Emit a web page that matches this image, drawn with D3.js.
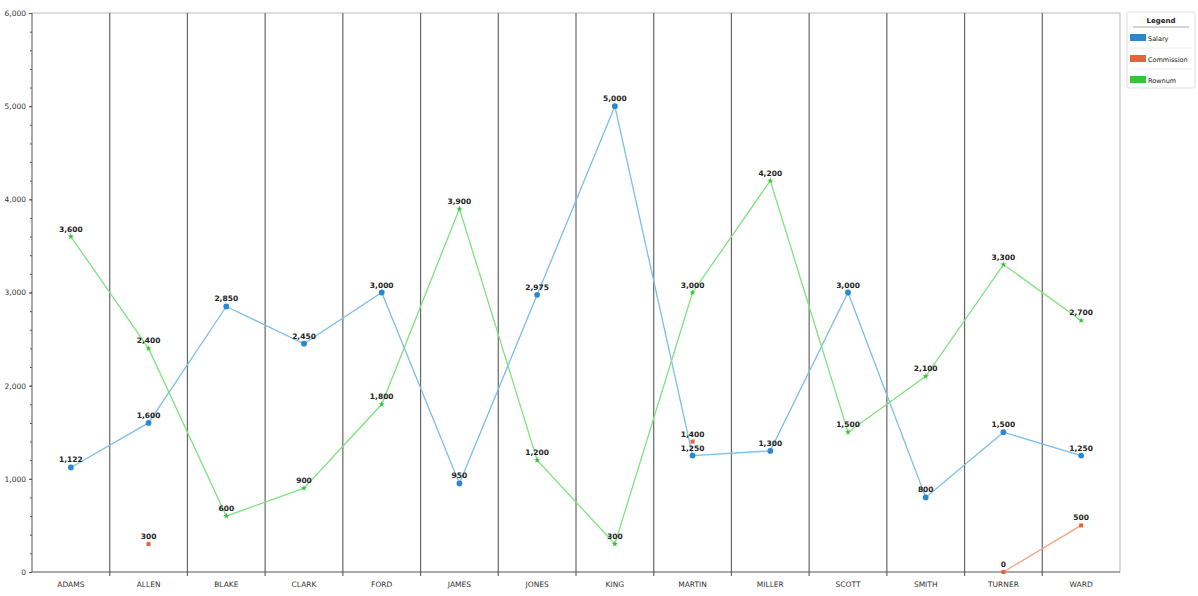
<!DOCTYPE html>
<html>
<head>
    <meta charset="utf-8">
    <style>
        body { margin: 0; background: #fff; }
        svg { display: block; }
        text { font-family: "DejaVu Sans", Verdana, sans-serif; fill: #222; }
        .axis text { font-size: 7.5px; fill: #333; }
        .axis .domain { stroke: #555; }
        .axis .tick line { stroke: #555; }
        .value-label { font-size: 7.5px; font-weight: bold; text-anchor: middle; }
        .legend text { font-size: 6.5px; }
    </style>
</head>
<body>
<svg width="1198" height="596"></svg>

<script src="https://d3js.org/d3.v7.min.js"></script>
<script>
    let names = ["ADAMS", "ALLEN", "BLAKE", "CLARK", "FORD", "JAMES", "JONES",
        "KING", "MARTIN", "MILLER", "SCOTT", "SMITH", "TURNER", "WARD"]

    let salary = [1122, 1600, 2850, 2450, 3000, 950, 2975, 5000, 1250, 1300, 3000, 800, 1500, 1250]
    let commission = [null, 300, null, null, null, null, null, null, 1400, null, null, null, 0, 500]
    let rownum = [3600, 2400, 600, 900, 1800, 3900, 1200, 300, 3000, 4200, 1500, 2100, 3300, 2700]

    let yTicks = [0, 1000, 2000, 3000, 4000, 5000, 6000]

    let seriesNames = ["Salary", "Commission", "Rownum"]

    let svg = d3.select("svg")
    let margin = { top: 13, right: 78, bottom: 24, left: 32 }
    let width = 1198, height = 596

    let x = d3.scaleBand()
        .domain(names)
        .range([margin.left, width - margin.right])

    let y = d3.scaleLinear()
        .domain([0, 6000])
        .range([height - margin.bottom, margin.top])

    // frame: top and right border
    svg.append("line")
        .attr("x1", margin.left).attr("x2", width - margin.right)
        .attr("y1", y(6000)).attr("y2", y(6000))
        .attr("stroke", "#bbb")
    svg.append("line")
        .attr("x1", width - margin.right).attr("x2", width - margin.right)
        .attr("y1", y(6000)).attr("y2", y(0))
        .attr("stroke", "#bbb")

    // vertical separators between categories
    svg.append("g")
        .selectAll("line")
        .data(names.slice(1))
        .join("line")
        .attr("x1", d => x(d)).attr("x2", d => x(d))
        .attr("y1", y(6000)).attr("y2", y(0) + 4)
        .attr("stroke", "#666")
        .attr("stroke-width", 1.2)

    // minor y ticks
    svg.append("g")
        .attr("class", "axis")
        .attr("transform", `translate(${margin.left},0)`)
        .call(d3.axisLeft(y).tickValues(d3.range(0, 6001, 200)).tickSize(2).tickFormat(""))
        .call(g => g.select(".domain").remove())

    svg.append("g")
        .attr("class", "axis")
        .attr("transform", `translate(${margin.left},0)`)
        .call(d3.axisLeft(y).tickValues(yTicks).tickSize(3).tickPadding(3).tickFormat(d3.format(",")))
        .call(g => g.select(".domain").attr("d", `M0,${y(6000)}V${y(0)}`))

    svg.append("g")
        .attr("class", "axis")
        .attr("transform", `translate(0,${y(0)})`)
        .call(d3.axisBottom(x).tickSize(0).tickPadding(10))
        .call(g => g.select(".domain").attr("d", `M${margin.left},0H${width - margin.right}`))

    let cx = d => x(d) + x.bandwidth() / 2

    let series = [
        { name: "Salary", values: salary, line: "#7cbfe6", mark: "#2b88d0", symbol: d3.symbolCircle, size: 26 },
        { name: "Commission", values: commission, line: "#f2a184", mark: "#e5623b", symbol: d3.symbolSquare, size: 16 },
        { name: "Rownum", values: rownum, line: "#7fe27f", mark: "#35c435", symbol: d3.symbolStar, size: 12 }
    ]

    series.forEach(s => {
        let pts = names.map((n, i) => ({ name: n, v: s.values[i] }))
        let line = d3.line()
            .defined(d => d.v != null)
            .x(d => cx(d.name))
            .y(d => y(d.v))

        svg.append("path")
            .datum(pts)
            .attr("fill", "none")
            .attr("stroke", s.line)
            .attr("stroke-width", 1.3)
            .attr("d", line)

        let valid = pts.filter(d => d.v != null)

        svg.append("g")
            .selectAll("path")
            .data(valid)
            .join("path")
            .attr("transform", d => `translate(${cx(d.name)},${y(d.v)})`)
            .attr("d", d3.symbol().type(s.symbol).size(s.size))
            .attr("fill", s.mark)

        svg.append("g")
            .selectAll("text")
            .data(valid)
            .join("text")
            .attr("class", "value-label")
            .attr("x", d => cx(d.name))
            .attr("y", d => y(d.v) - 5)
            .text(d => d3.format(",")(d.v))
    })

    // legend
    let lg = svg.append("g")
        .attr("class", "legend")
        .attr("transform", "translate(1127,12)")

    lg.append("rect")
        .attr("width", 68).attr("height", 76)
        .attr("rx", 2)
        .attr("fill", "#fff")
        .attr("stroke", "#ddd")

    lg.append("text")
        .attr("x", 34).attr("y", 11)
        .attr("text-anchor", "middle")
        .style("font-weight", "bold")
        .style("font-size", "7px")
        .text("Legend")

    lg.append("line")
        .attr("x1", 6).attr("x2", 62)
        .attr("y1", 15).attr("y2", 15)
        .attr("stroke", "#aaa")

    let item = lg.selectAll(".item")
        .data(series)
        .join("g")
        .attr("class", "item")
        .attr("transform", (d, i) => `translate(0,${22 + i * 21})`)

    item.append("rect")
        .attr("x", 3).attr("y", 0)
        .attr("width", 16).attr("height", 7)
        .attr("fill", d => d.mark)

    item.append("text")
        .attr("x", 21).attr("y", 7)
        .text(d => d.name)

    item.filter((d, i) => i < 2)
        .append("line")
        .attr("x1", 3).attr("x2", 65)
        .attr("y1", 14).attr("y2", 14)
        .attr("stroke", "#eee")
</script>
</body>
</html>
